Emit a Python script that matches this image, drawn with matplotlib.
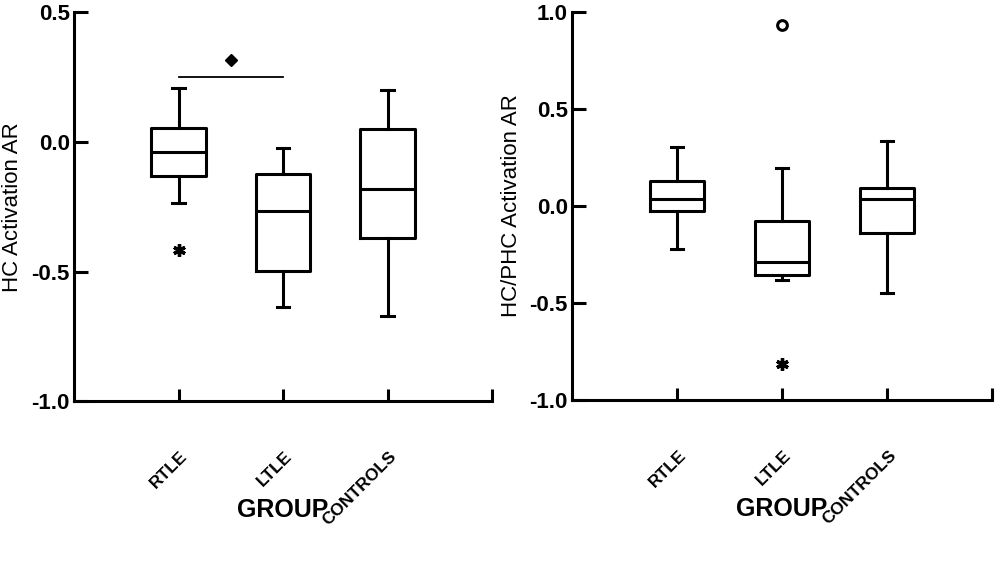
import matplotlib.pyplot as plt
from matplotlib.transforms import ScaledTranslation

plt.rcParams["font.family"] = ["Liberation Sans", "DejaVu Sans"]

groups = ["RTLE", "LTLE", "CONTROLS"]
positions = [1, 2, 3]

# left panel: HC activation AR (box statistics)
hc_whislo = [-0.237, -0.638, -0.670]
hc_q1 = [-0.131, -0.496, -0.372]
hc_med = [-0.037, -0.267, -0.180]
hc_q3 = [0.055, -0.122, 0.050]
hc_whishi = [0.210, -0.023, 0.200]
hc_extremes = [[-0.418], [], []]
hc_outliers = [[], [], []]
hc_yticks = [-1.0, -0.5, 0.0, 0.5]
hc_yticklabels = ["-1.0", "-0.5", "0.0", "0.5"]

# significance bar between RTLE and LTLE
sig_x = [1, 2]
sig_y = 0.25
sig_mark = (1.5, 0.316)

# right panel: HC/PHC activation AR
phc_whislo = [-0.220, -0.380, -0.448]
phc_q1 = [-0.026, -0.357, -0.137]
phc_med = [0.038, -0.289, 0.034]
phc_q3 = [0.129, -0.077, 0.093]
phc_whishi = [0.304, 0.196, 0.335]
phc_extremes = [[], [-0.813], []]
phc_outliers = [[], [0.931], []]
phc_yticks = [-1.0, -0.5, 0.0, 0.5, 1.0]
phc_yticklabels = ["-1.0", "-0.5", "0.0", "0.5", "1.0"]

LW = 2.2


def make_stats(whislo, q1, med, q3, whishi):
    out = []
    for lo, a, m, b, hi in zip(whislo, q1, med, q3, whishi):
        out.append(dict(whislo=lo, q1=a, med=m, q3=b, whishi=hi, fliers=[]))
    return out


def draw_panel(ax, stats, extremes, outliers, yticks, yticklabels, ylabel, ylab_x):
    lp = dict(color="black", linewidth=LW)
    ax.bxp(stats, positions=positions, widths=0.52, capwidths=0.12,
           showfliers=False, boxprops=lp, medianprops=lp,
           whiskerprops=lp, capprops=lp)

    for x, vals in zip(positions, extremes):
        if vals:
            ax.plot([x] * len(vals), vals, linestyle="none", marker=(6, 2, 0),
                    markersize=9, markeredgewidth=2.4, color="black")
    for x, vals in zip(positions, outliers):
        if vals:
            ax.plot([x] * len(vals), vals, linestyle="none", marker="o",
                    markersize=7, markeredgewidth=2.2, markerfacecolor="white",
                    markeredgecolor="black")

    ax.set_xlim(0, 4)
    ax.set_ylim(yticks[0], yticks[-1])
    ax.set_yticks(yticks)
    ax.set_yticklabels(yticklabels, fontsize=16, fontweight="bold")
    ax.set_xticks(positions + [4])
    ax.set_xticklabels(groups + [""], fontsize=12.5, fontweight="bold",
                       rotation=45, ha="right", va="top")
    ax.tick_params(axis="y", direction="in", length=10, width=LW, pad=3)
    ax.tick_params(axis="x", direction="in", length=9, width=LW, pad=34)
    offset = ScaledTranslation(12 / 100, 0, ax.figure.dpi_scale_trans)
    for lab in ax.get_xticklabels():
        lab.set_transform(lab.get_transform() + offset)

    for side in ["top", "right"]:
        ax.spines[side].set_visible(False)
    for side in ["left", "bottom"]:
        ax.spines[side].set_linewidth(LW)
        ax.spines[side].set_capstyle("projecting")

    ax.set_ylabel(ylabel, fontsize=16)
    ax.yaxis.set_label_coords(ylab_x, 0.5)
    ax.set_xlabel("GROUP", fontsize=18, fontweight="bold")
    ax.xaxis.set_label_coords(0.5, -0.25)


fig = plt.figure(figsize=(10, 5.65), dpi=100)
ax1 = fig.add_axes([0.074, 0.290, 0.418, 0.688])
ax2 = fig.add_axes([0.572, 0.292, 0.420, 0.687])

draw_panel(ax1, make_stats(hc_whislo, hc_q1, hc_med, hc_q3, hc_whishi),
           hc_extremes, hc_outliers, hc_yticks, hc_yticklabels,
           "HC Activation AR", -0.122)
ax1.plot(sig_x, [sig_y, sig_y], color="black", linewidth=1.3)
ax1.plot([sig_mark[0]], [sig_mark[1]], marker="D", markersize=6.5,
         color="black", linestyle="none")

draw_panel(ax2, make_stats(phc_whislo, phc_q1, phc_med, phc_q3, phc_whishi),
           phc_extremes, phc_outliers, phc_yticks, phc_yticklabels,
           "HC/PHC Activation AR", -0.119)

fig.savefig("out.png", dpi=100)
